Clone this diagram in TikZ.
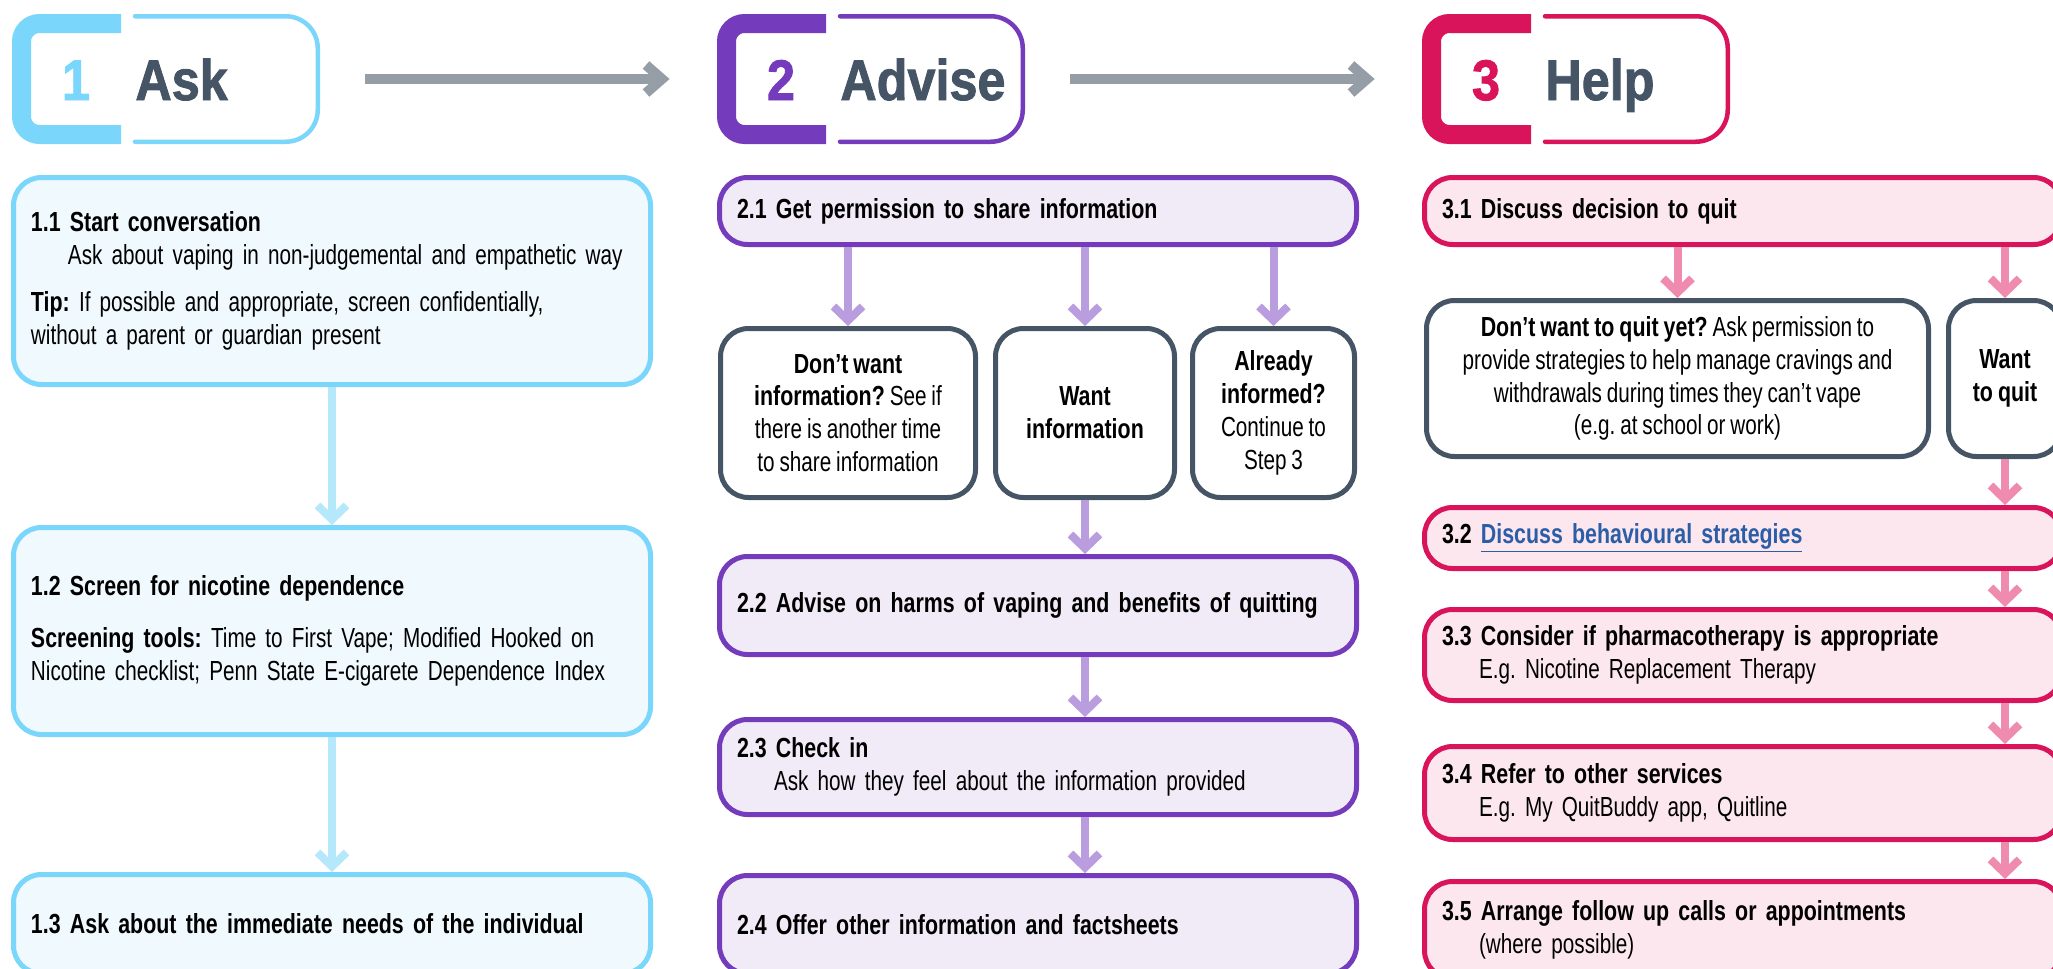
\documentclass[tikz,border=0pt]{standalone}
\usepackage{fontspec}
\setmainfont{Liberation Sans}[WordSpace=0.85,
  UprightFeatures={FakeStretch=0.75}, BoldFeatures={FakeStretch=0.775}]
\newfontfamily\headfont{Liberation Sans}[FakeStretch=0.88, BoldFeatures={FakeBold=1.5}]
\usetikzlibrary{arrows.meta}
\frenchspacing

\definecolor{askblue}{HTML}{7AD6FA}
\definecolor{askfill}{HTML}{F0F9FD}
\definecolor{askarrow}{HTML}{B6E8FB}
\definecolor{advpurple}{HTML}{753BBD}
\definecolor{advfill}{HTML}{F0EBF7}
\definecolor{advarrow}{HTML}{B99DDE}
\definecolor{helpred}{HTML}{D9145A}
\definecolor{helpfill}{HTML}{FCE7EE}
\definecolor{helparrow}{HTML}{EE8BAE}
\definecolor{slate}{HTML}{465565}
\definecolor{greyarrow}{HTML}{959DA6}
\definecolor{linkblue}{HTML}{2C5EA8}

\newcommand{\bodyfont}{\fontsize{13.8pt}{16.4pt}\selectfont}
\newcommand{\subind}{\hspace*{18.5pt}}

\tikzset{
  stepbox/.style={rounded corners=14pt, line width=2.5pt, anchor=north west,
    inner xsep=8.75pt, inner ysep=0pt, text width=301pt, align=left, font=\bodyfont},
  askbox/.style={stepbox, draw=askblue, fill=askfill},
  advbox/.style={stepbox, draw=advpurple, fill=advfill},
  helpbox/.style={stepbox, draw=helpred, fill=helpfill},
  choicebox/.style={rounded corners=14pt, line width=2.5pt, draw=slate, fill=white,
    anchor=north west, inner sep=0pt, align=center, font=\bodyfont},
  flow/.style={line width=4pt, -{Straight Barb[length=7pt,width=14.5pt]}},
  askflow/.style={flow, draw=askarrow},
  advflow/.style={flow, draw=advarrow},
  helpflow/.style={flow, draw=helparrow},
  hdrarrow/.style={line width=5pt, draw=greyarrow, -{Straight Barb[length=8pt,width=14pt]}},
  hdrframe/.style={minimum width=154pt, minimum height=65pt, inner sep=0pt},
  hdrnum/.style={anchor=base, inner sep=0pt, font={\headfont\bfseries\fontsize{28.6pt}{30pt}\selectfont}},
  hdrtitle/.style={hdrnum, anchor=base west, text=slate}
}

\begin{document}
\begin{tikzpicture}[x=0.5pt, y=-0.5pt]
  \useasboundingbox (0,0) rectangle (2053,969);

  % step headers: heavy bracket on the left, thin outline on the right
  \foreach \x/\c/\n/\t in {0/askblue/1/Ask, 705/advpurple/2/Advise, 1410/helpred/3/Help}{
    \node[hdrframe] (hdr\n) at ({\x+166},79) {};
    \draw[draw=\c, line width=2.25pt, line cap=round, rounded corners=16pt]
      ({\x+135},16.25) -- ({\x+317.75},16.25) -- ({\x+317.75},141.75) -- ({\x+135},141.75);
    \draw[draw=\c, line width=9.5pt, rounded corners=9pt]
      ({\x+121},23.5) -- ({\x+21.5},23.5) -- ({\x+21.5},134.5) -- ({\x+121},134.5);
    \node[hdrnum, text=\c] (num\n) at ({\x+76},100) {\n};
    \node[hdrtitle] (title\n) at ({\x+135},100) {\t};
  }
  \draw[hdrarrow, shorten <=22.5pt, shorten >=23.5pt] (hdr1.east) -- (hdr2.west);
  \draw[hdrarrow, shorten <=22.5pt, shorten >=23.5pt] (hdr2.east) -- (hdr3.west);

  % column 1
  \node[askbox, minimum height=103.5pt] (s11) at (11,175) {%
    \textbf{1.1 Start conversation}\\
    \subind Ask about vaping in non-judgemental and empathetic way\\[7pt]
    \textbf{Tip:} If possible and appropriate, screen confidentially,\\
    without a parent or guardian present};
  \node[askbox, minimum height=103.5pt] (s12) at (11,525) {%
    \textbf{1.2 Screen for nicotine dependence}\\[9.5pt]
    \textbf{Screening tools:} Time to First Vape; Modified Hooked on\\
    Nicotine checklist; Penn State E-cigarete Dependence Index};
  \node[askbox, minimum height=49.5pt] (s13) at (11,872) {%
    \textbf{1.3 Ask about the immediate needs of the individual}};
  \draw[askflow] (s11.south) -- (s12.north);
  \draw[askflow] (s12.south) -- (s13.north);

  % column 2
  \node[advbox, minimum height=33.5pt] (s21) at (717,175) {%
    \textbf{2.1 Get permission to share information}};
  \node[choicebox, minimum width=127.5pt, minimum height=84.5pt] (c2a) at (718,326) {%
    \textbf{Don’t want}\\ \textbf{information?} See if\\ there is another time\\ to share information};
  \node[choicebox, minimum width=89.5pt, minimum height=84.5pt] (c2b) at (993,326) {%
    \textbf{Want}\\ \textbf{information}};
  \node[choicebox, minimum width=81pt, minimum height=84.5pt] (c2c) at (1190,326) {%
    \textbf{Already}\\ \textbf{informed?}\\ Continue to\\ Step 3};
  \node[advbox, minimum height=49pt] (s22) at (717,554) {%
    \textbf{2.2 Advise on harms of vaping and benefits of quitting}};
  \node[advbox, minimum height=47.5pt] (s23) at (717,717) {%
    \textbf{2.3 Check in}\\
    \subind Ask how they feel about the information provided};
  \node[advbox, minimum height=49pt] (s24) at (717,873) {%
    \textbf{2.4 Offer other information and factsheets}};
  \draw[advflow] (s21.south -| c2a.north) -- (c2a.north);
  \draw[advflow] (s21.south -| c2b.north) -- (c2b.north);
  \draw[advflow] (s21.south -| c2c.north) -- (c2c.north);
  \draw[advflow] (c2b.south) -- (c2b.south |- s22.north);
  \draw[advflow] (s22.south -| c2b.south) -- (s23.north -| c2b.south);
  \draw[advflow] (s23.south -| c2b.south) -- (s24.north -| c2b.south);

  % column 3
  \node[helpbox, minimum height=33.5pt] (s31) at (1422,175) {%
    \textbf{3.1 Discuss decision to quit}};
  \node[choicebox, minimum width=251pt, minimum height=78pt] (c3a) at (1424,298) {%
    \textbf{Don’t want to quit yet?} Ask permission to\\
    provide strategies to help manage cravings and\\
    withdrawals during times they can’t vape\\
    (e.g. at school or work)};
  \node[choicebox, minimum width=56.5pt, minimum height=78pt] (c3b) at (1946,298) {%
    \textbf{Want}\\ \textbf{to quit}};
  \node[helpbox, minimum height=30.5pt] (s32) at (1422,505) {%
    \textbf{3.2 \textcolor{linkblue}{\underline{Discuss behavioural strategies}}}};
  \node[helpbox, minimum height=45.5pt] (s33) at (1422,607) {%
    \textbf{3.3 Consider if pharmacotherapy is appropriate}\\
    \subind E.g. Nicotine Replacement Therapy};
  \node[helpbox, minimum height=46.5pt] (s34) at (1422,744) {%
    \textbf{3.4 Refer to other services}\\
    \subind E.g. My QuitBuddy app, Quitline};
  \node[helpbox, minimum height=48.5pt] (s35) at (1422,879) {%
    \textbf{3.5 Arrange follow up calls or appointments}\\
    \subind (where possible)};
  \draw[helpflow] (s31.south -| c3a.north) -- (c3a.north);
  \draw[helpflow] (s31.south -| c3b.north) -- (c3b.north);
  \draw[helpflow] (c3b.south) -- (c3b.south |- s32.north);
  \draw[helpflow] (s32.south -| c3b.south) -- (s33.north -| c3b.south);
  \draw[helpflow] (s33.south -| c3b.south) -- (s34.north -| c3b.south);
  \draw[helpflow] (s34.south -| c3b.south) -- (s35.north -| c3b.south);
\end{tikzpicture}
\end{document}
